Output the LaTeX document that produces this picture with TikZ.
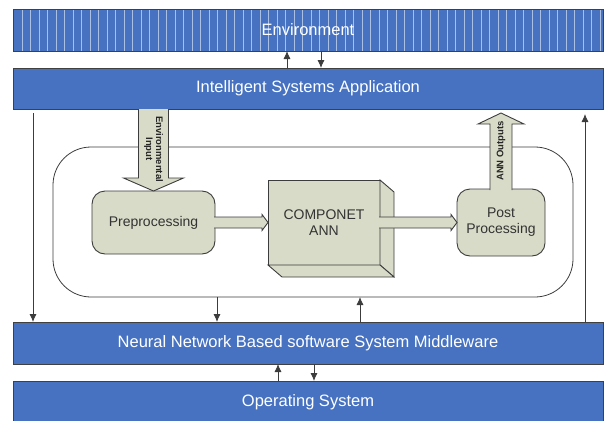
\documentclass[tikz,border=0pt]{standalone}
\usepackage{fontspec}
\setmainfont{Liberation Sans}
\usetikzlibrary{positioning,calc,arrows.meta}
\definecolor{barblue}{RGB}{70,114,193}
\definecolor{boxfill}{RGB}{216,219,199}
\definecolor{linegray}{RGB}{60,60,60}

\begin{document}
\begin{tikzpicture}[x=1pt, y=-1pt,
    bar/.style = {draw=black!75, fill=barblue, text=white, minimum width=590pt,
                  minimum height=42pt, inner sep=0pt, outer sep=0pt,
                  font=\fontsize{16.5}{19}\selectfont},
    stage/.style = {draw=linegray, fill=boxfill, line width=0.9pt, rounded corners=13pt,
                    align=center, inner sep=0pt, outer sep=0pt, text=black!80,
                    font=\fontsize{14}{16}\selectfont},
    annbox/.style = {stage, sharp corners},
    blk/.style = {draw=linegray, fill=boxfill, line width=0.9pt},
    arr/.style = {draw=linegray, line width=0.8pt, -{Latex[length=8pt,width=7pt]}},
    lbl/.style = {align=center, inner sep=0pt, text=black!85,
                  font=\bfseries\fontsize{9.5}{10}\selectfont},
    stripes/.style = {path picture={\foreach \i in {0,...,68}
        \draw[white, opacity=.55, line width=.7pt]
          ([xshift=9pt+\i*8.5pt]path picture bounding box.north west) --
          ([xshift=9pt+\i*8.5pt]path picture bounding box.south west);}}]
    \useasboundingbox (0,0) rectangle (604,420);

    % layers
    \node[bar, stripes] (env) at (308,30) {Environment};
    \node[bar, minimum height=41pt, below=17pt of env] (isa) {Intelligent Systems Application};
    \node[bar] (mid) at (308,343) {Neural Network Based software System Middleware};
    \node[bar, below=17pt of mid] (os) {Operating System};

    \draw[arr] ([xshift=-21pt]isa.north) -- ([xshift=-21pt]env.south);
    \draw[arr] ([xshift=13pt]env.south) -- ([xshift=13pt]isa.north);
    \draw[arr] ([xshift=-30pt]os.north) -- ([xshift=-30pt]mid.south);
    \draw[arr] ([xshift=6pt]mid.south) -- ([xshift=6pt]os.north);

    \coordinate (lft) at ([xshift=-275pt,yshift=-4pt]isa.south);
    \draw[arr] (lft) -- (lft |- mid.north);
    \coordinate (rgt) at ([xshift=277pt]mid.north);
    \draw[arr, shorten >=5pt] (rgt) -- (rgt |- isa.south);

    % component container
    \node[draw=linegray, line width=0.8pt, rounded corners=38pt, minimum width=520pt,
          minimum height=150pt, outer sep=0pt] (core) at (313,222) {};
    \coordinate (cdn) at ([xshift=-96pt]core.south);
    \draw[arr] (cdn) -- (cdn |- mid.north);
    \coordinate (cup) at ([xshift=47pt]core.south);
    \draw[arr] (cup |- mid.north) -- (cup);

    % stages
    \node[stage, minimum width=123pt, minimum height=63pt] (pre) at (153.5,222.5) {Preprocessing};
    \node[annbox, minimum width=112pt, minimum height=85pt, right=53pt of pre] (ann) {COMPONET\\ANN};
    \node[stage, minimum width=88pt, minimum height=67pt, right=77pt of ann] (post) {Post\\Processing};
    \filldraw[blk] (ann.north east) -- ++(14,12) -- ++(0,85) -- (ann.south east) -- cycle;
    \filldraw[blk] (ann.south west) -- ++(14,12) -- ++(112,0) -- (ann.south east) -- cycle;

    % block arrows
    \coordinate (ein) at (pre.north |- isa.south);
    \filldraw[blk] (ein) ++(-15,0) -- ++(0,69) -- ++(-15,0) -- (pre.north) -- ++(30,-13)
        -- ++(-15,0) -- ++(0,-69);
    \filldraw[blk] ([xshift=-1pt]pre.east) ++(0,-5.5) -- ($(ann.west)+(-6,-5.5)$) -- ++(0,-2.5)
        -- (ann.west) -- ++(-6,8) -- ++(0,-2.5) -- ($(pre.east)+(-1,5.5)$);
    \filldraw[blk] ([xshift=-1pt]ann.east) ++(0,-5.5) -- ($(post.west)+(-6,-5.5)$) -- ++(0,-2.5)
        -- (post.west) -- ++(-6,8) -- ++(0,-2.5) -- ($(ann.east)+(-1,5.5)$);
    \filldraw[blk] ([yshift=-1pt]post.north) ++(-11,0) -- ++(0,-66) -- ++(-12,0) -- ++(23,-11)
        -- ++(23,11) -- ++(-12,0) -- ++(0,66);

    \node[lbl, rotate=-90] (einlbl) at ($(ein)+(0,40)$) {Environmental\\Input};
    \node[lbl, rotate=90] (outlbl) at ($(post.north)+(0,-38)$) {ANN Outputs};
\end{tikzpicture}
\end{document}
